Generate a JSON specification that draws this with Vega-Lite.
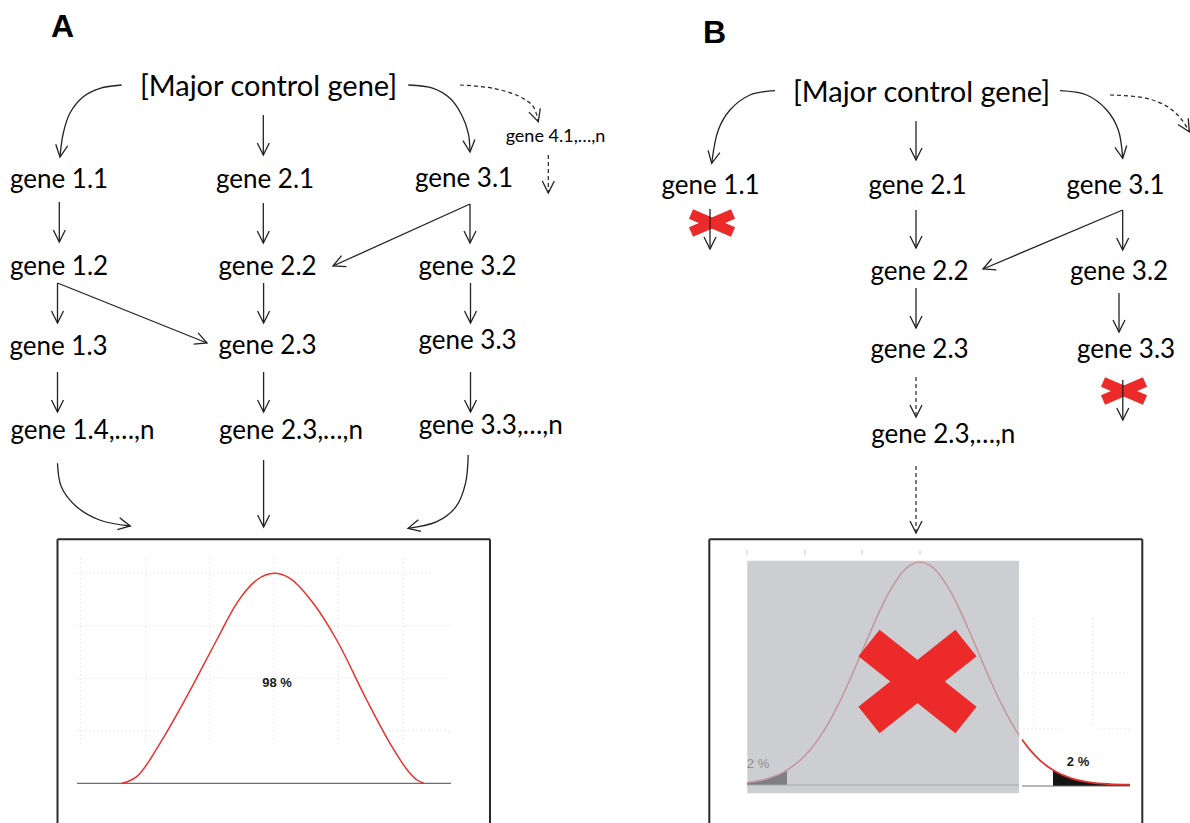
{
  "$schema": "https://vega.github.io/schema/vega-lite/v6.json",
  "width": 1190,
  "height": 823,
  "padding": 0,
  "autosize": {"type": "none"},
  "background": "white",
  "config": {"view": {"stroke": null}},
  "datasets": {
    "texts": [
      {"label": "A", "x": 62.5, "y": 37, "role": "letter"},
      {"label": "B", "x": 714.5, "y": 43, "role": "letter"},
      {"label": "[Major control gene]", "x": 268.5, "y": 96, "role": "major"},
      {"label": "[Major control gene]", "x": 921.5, "y": 102, "role": "major"},
      {"label": "gene 1.1", "x": 59, "y": 188, "role": "gene"},
      {"label": "gene 2.1", "x": 265, "y": 188, "role": "gene"},
      {"label": "gene 3.1", "x": 464, "y": 187, "role": "gene"},
      {"label": "gene 4.1,…,n", "x": 555.5, "y": 142, "role": "small"},
      {"label": "gene 1.2", "x": 59, "y": 275, "role": "gene"},
      {"label": "gene 2.2", "x": 267.5, "y": 275, "role": "gene"},
      {"label": "gene 3.2", "x": 467.5, "y": 275, "role": "gene"},
      {"label": "gene 1.3", "x": 58.5, "y": 355, "role": "gene"},
      {"label": "gene 2.3", "x": 267.5, "y": 354, "role": "gene"},
      {"label": "gene 3.3", "x": 467.5, "y": 349, "role": "gene"},
      {"label": "gene 1.4,…,n", "x": 82.5, "y": 439, "role": "gene"},
      {"label": "gene 2.3,…,n", "x": 291, "y": 439, "role": "gene"},
      {"label": "gene 3.3,…,n", "x": 490.7, "y": 434, "role": "gene"},
      {"label": "gene 1.1", "x": 710.5, "y": 194, "role": "gene"},
      {"label": "gene 2.1", "x": 917.5, "y": 194, "role": "gene"},
      {"label": "gene 3.1", "x": 1115.5, "y": 194, "role": "gene"},
      {"label": "gene 2.2", "x": 919.5, "y": 280, "role": "gene"},
      {"label": "gene 3.2", "x": 1119, "y": 280, "role": "gene"},
      {"label": "gene 2.3", "x": 919.5, "y": 358, "role": "gene"},
      {"label": "gene 3.3", "x": 1126, "y": 358, "role": "gene"},
      {"label": "gene 2.3,…,n", "x": 943.3, "y": 443, "role": "gene"},
      {"label": "98 %", "x": 277, "y": 687, "role": "pct"},
      {"label": "2 %", "x": 1078, "y": 766, "role": "pct"},
      {"label": "2 %", "x": 758, "y": 768, "role": "pctgray"}
    ],
    "segs": [
      {"x": 263.3, "y": 115, "x2": 263.3, "y2": 155, "kind": "solid"},
      {"x": 59.3, "y": 202, "x2": 59.3, "y2": 242, "kind": "solid"},
      {"x": 263.3, "y": 203, "x2": 263.3, "y2": 243, "kind": "solid"},
      {"x": 470, "y": 204, "x2": 470, "y2": 243, "kind": "solid"},
      {"x": 470, "y": 204, "x2": 333, "y2": 266, "kind": "solid"},
      {"x": 57.5, "y": 283, "x2": 57.5, "y2": 323, "kind": "solid"},
      {"x": 57.5, "y": 283, "x2": 207, "y2": 343, "kind": "solid"},
      {"x": 263.6, "y": 283, "x2": 263.6, "y2": 323, "kind": "solid"},
      {"x": 470.5, "y": 283, "x2": 470.5, "y2": 323, "kind": "solid"},
      {"x": 57.5, "y": 372, "x2": 57.5, "y2": 412, "kind": "solid"},
      {"x": 263.6, "y": 372, "x2": 263.6, "y2": 412, "kind": "solid"},
      {"x": 470.5, "y": 372, "x2": 470.5, "y2": 412, "kind": "solid"},
      {"x": 263.6, "y": 460, "x2": 263.6, "y2": 527, "kind": "solid"},
      {"x": 916, "y": 121, "x2": 916, "y2": 160, "kind": "solid"},
      {"x": 710, "y": 209, "x2": 710, "y2": 249, "kind": "solid"},
      {"x": 916, "y": 210, "x2": 916, "y2": 248, "kind": "solid"},
      {"x": 1122.7, "y": 210, "x2": 1122.7, "y2": 250, "kind": "solid"},
      {"x": 1122.7, "y": 210, "x2": 983, "y2": 269, "kind": "solid"},
      {"x": 916, "y": 288, "x2": 916, "y2": 328, "kind": "solid"},
      {"x": 1119, "y": 293, "x2": 1119, "y2": 332, "kind": "solid"},
      {"x": 1122.8, "y": 380, "x2": 1122.8, "y2": 420, "kind": "solid"},
      {"x": 548.3, "y": 155, "x2": 548.3, "y2": 193, "kind": "dashed"},
      {"x": 916, "y": 377, "x2": 916, "y2": 417, "kind": "dashed"},
      {"x": 916, "y": 466, "x2": 916, "y2": 533, "kind": "dashed"}
    ],
    "curves": [
      {"id": "a1", "i": 0, "x": 121.7, "y": 85, "kind": "solid"},
      {"id": "a1", "i": 1, "x": 100, "y": 88.3, "kind": "solid"},
      {"id": "a1", "i": 2, "x": 83.3, "y": 96.7, "kind": "solid"},
      {"id": "a1", "i": 3, "x": 70, "y": 113, "kind": "solid"},
      {"id": "a1", "i": 4, "x": 63.3, "y": 133, "kind": "solid"},
      {"id": "a1", "i": 5, "x": 60, "y": 156.7, "kind": "solid"},
      {"id": "a2", "i": 0, "x": 408.3, "y": 85, "kind": "solid"},
      {"id": "a2", "i": 1, "x": 433.3, "y": 88.3, "kind": "solid"},
      {"id": "a2", "i": 2, "x": 450, "y": 98.3, "kind": "solid"},
      {"id": "a2", "i": 3, "x": 461.7, "y": 115, "kind": "solid"},
      {"id": "a2", "i": 4, "x": 468.3, "y": 133.3, "kind": "solid"},
      {"id": "a2", "i": 5, "x": 470, "y": 151.7, "kind": "solid"},
      {"id": "a3", "i": 0, "x": 57.5, "y": 463.3, "kind": "solid"},
      {"id": "a3", "i": 1, "x": 61.3, "y": 486.7, "kind": "solid"},
      {"id": "a3", "i": 2, "x": 76.6, "y": 506.7, "kind": "solid"},
      {"id": "a3", "i": 3, "x": 99.6, "y": 520, "kind": "solid"},
      {"id": "a3", "i": 4, "x": 130.3, "y": 526, "kind": "solid"},
      {"id": "a4", "i": 0, "x": 468.2, "y": 455, "kind": "solid"},
      {"id": "a4", "i": 1, "x": 465.5, "y": 483.3, "kind": "solid"},
      {"id": "a4", "i": 2, "x": 456, "y": 506.7, "kind": "solid"},
      {"id": "a4", "i": 3, "x": 436.8, "y": 521.7, "kind": "solid"},
      {"id": "a4", "i": 4, "x": 408, "y": 528.3, "kind": "solid"},
      {"id": "b1", "i": 0, "x": 775, "y": 90.7, "kind": "solid"},
      {"id": "b1", "i": 1, "x": 750, "y": 95, "kind": "solid"},
      {"id": "b1", "i": 2, "x": 730, "y": 110, "kind": "solid"},
      {"id": "b1", "i": 3, "x": 718.3, "y": 130, "kind": "solid"},
      {"id": "b1", "i": 4, "x": 711.7, "y": 163.3, "kind": "solid"},
      {"id": "b2", "i": 0, "x": 1060, "y": 90.7, "kind": "solid"},
      {"id": "b2", "i": 1, "x": 1086.7, "y": 95, "kind": "solid"},
      {"id": "b2", "i": 2, "x": 1106.7, "y": 110, "kind": "solid"},
      {"id": "b2", "i": 3, "x": 1118.3, "y": 130, "kind": "solid"},
      {"id": "b2", "i": 4, "x": 1122.7, "y": 158.3, "kind": "solid"},
      {"id": "da", "i": 0, "x": 460, "y": 85, "kind": "dashed"},
      {"id": "da", "i": 1, "x": 493.3, "y": 88.3, "kind": "dashed"},
      {"id": "da", "i": 2, "x": 520, "y": 96.7, "kind": "dashed"},
      {"id": "da", "i": 3, "x": 533.3, "y": 106.7, "kind": "dashed"},
      {"id": "da", "i": 4, "x": 538.3, "y": 121.7, "kind": "dashed"},
      {"id": "db", "i": 0, "x": 1110, "y": 95, "kind": "dashed"},
      {"id": "db", "i": 1, "x": 1146.7, "y": 98.3, "kind": "dashed"},
      {"id": "db", "i": 2, "x": 1170, "y": 108.3, "kind": "dashed"},
      {"id": "db", "i": 3, "x": 1183.3, "y": 121.7, "kind": "dashed"},
      {"id": "db", "i": 4, "x": 1189.3, "y": 131.7, "kind": "dashed"}
    ],
    "heads": [
      {"x": 263.3, "y": 155, "angle": 0}, {"x": 59.3, "y": 242, "angle": 0},
      {"x": 263.3, "y": 243, "angle": 0}, {"x": 470, "y": 243, "angle": 0},
      {"x": 333, "y": 266, "angle": 66}, {"x": 57.5, "y": 323, "angle": 0},
      {"x": 207, "y": 343, "angle": 292}, {"x": 263.6, "y": 323, "angle": 0},
      {"x": 470.5, "y": 323, "angle": 0}, {"x": 57.5, "y": 412, "angle": 0},
      {"x": 263.6, "y": 412, "angle": 0}, {"x": 470.5, "y": 412, "angle": 0},
      {"x": 263.6, "y": 527, "angle": 0}, {"x": 916, "y": 160, "angle": 0},
      {"x": 710, "y": 249, "angle": 0}, {"x": 916, "y": 248, "angle": 0},
      {"x": 1122.7, "y": 250, "angle": 0}, {"x": 983, "y": 269, "angle": 67},
      {"x": 916, "y": 328, "angle": 0}, {"x": 1119, "y": 332, "angle": 0},
      {"x": 1122.8, "y": 420, "angle": 0}, {"x": 548.3, "y": 193, "angle": 0},
      {"x": 916, "y": 417, "angle": 0}, {"x": 916, "y": 533, "angle": 0},
      {"x": 60, "y": 157, "angle": 8}, {"x": 470, "y": 152, "angle": 355},
      {"x": 130.3, "y": 526, "angle": 281}, {"x": 408, "y": 528.3, "angle": 77},
      {"x": 711.7, "y": 163.3, "angle": 11}, {"x": 1122.7, "y": 158.3, "angle": 351},
      {"x": 538.3, "y": 121.7, "angle": 342}, {"x": 1189.3, "y": 131.7, "angle": 329}
    ],
    "xbars": [
      {"x": 691, "y": 214, "x2": 733, "y2": 232, "size": "small"},
      {"x": 691, "y": 232, "x2": 733, "y2": 214, "size": "small"},
      {"x": 1103, "y": 382, "x2": 1145, "y2": 400, "size": "small"},
      {"x": 1103, "y": 400, "x2": 1145, "y2": 382, "size": "small"},
      {"x": 869, "y": 643, "x2": 966, "y2": 720, "size": "big"},
      {"x": 966, "y": 643, "x2": 869, "y2": 720, "size": "big"}
    ],
    "frames": [
      {"x": 57.5, "y": 539.3, "x2": 490, "y2": 539.3},
      {"x": 57.5, "y": 539.3, "x2": 57.5, "y2": 823},
      {"x": 490, "y": 539.3, "x2": 490, "y2": 823},
      {"x": 709.3, "y": 539.3, "x2": 1142.3, "y2": 539.3},
      {"x": 709.3, "y": 539.3, "x2": 709.3, "y2": 823},
      {"x": 1142.3, "y": 539.3, "x2": 1142.3, "y2": 823}
    ],
    "grid": [
      {"x": 80.7, "y": 558, "x2": 80.7, "y2": 745},
      {"x": 145.7, "y": 558, "x2": 145.7, "y2": 745},
      {"x": 210, "y": 558, "x2": 210, "y2": 745},
      {"x": 274, "y": 558, "x2": 274, "y2": 745},
      {"x": 338.3, "y": 558, "x2": 338.3, "y2": 745},
      {"x": 403.3, "y": 558, "x2": 403.3, "y2": 745},
      {"x": 77, "y": 573.3, "x2": 432, "y2": 573.3},
      {"x": 77, "y": 625.7, "x2": 450, "y2": 625.7},
      {"x": 77, "y": 678.3, "x2": 450, "y2": 678.3},
      {"x": 77, "y": 730.7, "x2": 160, "y2": 730.7},
      {"x": 388, "y": 730.7, "x2": 450, "y2": 730.7},
      {"x": 1034, "y": 618, "x2": 1034, "y2": 727},
      {"x": 1092.7, "y": 618, "x2": 1092.7, "y2": 727},
      {"x": 1023, "y": 673, "x2": 1130, "y2": 673},
      {"x": 1023, "y": 729, "x2": 1060, "y2": 729},
      {"x": 1100, "y": 729, "x2": 1130, "y2": 729}
    ],
    "ticks": [
      {"x": 747, "y": 550, "x2": 747, "y2": 555},
      {"x": 805, "y": 550, "x2": 805, "y2": 555},
      {"x": 862, "y": 550, "x2": 862, "y2": 555},
      {"x": 920, "y": 550, "x2": 920, "y2": 555}
    ],
    "baselines": [
      {"x": 77, "y": 783.3, "x2": 451, "y2": 783.3, "panel": "A"},
      {"x": 747, "y": 785, "x2": 1019, "y2": 785, "panel": "Bgray"},
      {"x": 1022, "y": 786, "x2": 1130, "y2": 786, "panel": "B"}
    ],
    "grayrect": [{"x": 747.3, "y": 560.7, "x2": 1019, "y2": 793.3}],
    "distA": [
      {"x": 121.7, "y": 783.3}, {"x": 128, "y": 781.5}, {"x": 136.7, "y": 776.7},
      {"x": 160, "y": 743.3}, {"x": 186.7, "y": 696.7}, {"x": 216.7, "y": 640},
      {"x": 236.7, "y": 603.3}, {"x": 256.7, "y": 580}, {"x": 274, "y": 573.3},
      {"x": 290, "y": 578.3}, {"x": 313.3, "y": 603.3}, {"x": 336.7, "y": 640},
      {"x": 366.7, "y": 700}, {"x": 390, "y": 743.3}, {"x": 410, "y": 773.3},
      {"x": 417, "y": 780}, {"x": 424, "y": 783.3}
    ],
    "distB": [
      {"x": 747, "y": 782.7, "part": "faded"}, {"x": 767, "y": 778.8, "part": "faded"},
      {"x": 787, "y": 770.1, "part": "faded"}, {"x": 800, "y": 760.3, "part": "faded"},
      {"x": 810, "y": 749.9, "part": "faded"}, {"x": 820, "y": 736.6, "part": "faded"},
      {"x": 830, "y": 720.3, "part": "faded"}, {"x": 840, "y": 701.2, "part": "faded"},
      {"x": 850, "y": 679.5, "part": "faded"}, {"x": 860, "y": 656.3, "part": "faded"},
      {"x": 870, "y": 632.8, "part": "faded"}, {"x": 880, "y": 610.3, "part": "faded"},
      {"x": 890, "y": 590.7, "part": "faded"}, {"x": 900, "y": 575.2, "part": "faded"},
      {"x": 910, "y": 565.4, "part": "faded"}, {"x": 920, "y": 562, "part": "faded"},
      {"x": 930, "y": 565.4, "part": "faded"}, {"x": 940, "y": 575.2, "part": "faded"},
      {"x": 950, "y": 590.7, "part": "faded"}, {"x": 960, "y": 610.3, "part": "faded"},
      {"x": 970, "y": 632.8, "part": "faded"}, {"x": 980, "y": 656.3, "part": "faded"},
      {"x": 990, "y": 679.5, "part": "faded"}, {"x": 1000, "y": 701.2, "part": "faded"},
      {"x": 1010, "y": 720.3, "part": "faded"}, {"x": 1019, "y": 735.1, "part": "faded"},
      {"x": 1022, "y": 739.5, "part": "red"}, {"x": 1030, "y": 749.9, "part": "red"},
      {"x": 1040, "y": 760.3, "part": "red"}, {"x": 1053, "y": 770.1, "part": "red"},
      {"x": 1070, "y": 777.8, "part": "red"}, {"x": 1090, "y": 782.3, "part": "red"},
      {"x": 1110, "y": 784.1, "part": "red"}, {"x": 1130, "y": 784.7, "part": "red"}
    ],
    "tails": [
      {"x": 747, "y": 782.7, "base": 785, "side": "left"},
      {"x": 757, "y": 781.2, "base": 785, "side": "left"},
      {"x": 767, "y": 778.8, "base": 785, "side": "left"},
      {"x": 777, "y": 775.2, "base": 785, "side": "left"},
      {"x": 787, "y": 770.1, "base": 785, "side": "left"},
      {"x": 1053, "y": 770.1, "base": 786, "side": "right"},
      {"x": 1060, "y": 773.8, "base": 786, "side": "right"},
      {"x": 1070, "y": 777.8, "base": 786, "side": "right"},
      {"x": 1080, "y": 780.5, "base": 786, "side": "right"},
      {"x": 1090, "y": 782.3, "base": 786, "side": "right"},
      {"x": 1100, "y": 783.4, "base": 786, "side": "right"},
      {"x": 1110, "y": 784.1, "base": 786, "side": "right"},
      {"x": 1120, "y": 784.5, "base": 786, "side": "right"},
      {"x": 1130, "y": 784.7, "base": 786, "side": "right"}
    ]
  },
  "encoding": {
    "x": {"field": "x", "type": "quantitative", "scale": {"domain": [0, 1190], "nice": false, "zero": false}, "axis": null},
    "y": {"field": "y", "type": "quantitative", "scale": {"domain": [0, 823], "nice": false, "zero": false, "reverse": true}, "axis": null}
  },
  "layer": [
    {
      "data": {"name": "grid"},
      "mark": {"type": "rule", "stroke": "#ebebeb", "strokeWidth": 1, "strokeDash": [2, 2]},
      "encoding": {"x2": {"field": "x2"}, "y2": {"field": "y2"}}
    },
    {
      "data": {"name": "grayrect"},
      "mark": {"type": "rect", "fill": "#cdced2"},
      "encoding": {"x2": {"field": "x2"}, "y2": {"field": "y2"}}
    },
    {
      "data": {"name": "ticks"},
      "mark": {"type": "rule", "stroke": "#c8c8c8", "strokeWidth": 1},
      "encoding": {"x2": {"field": "x2"}, "y2": {"field": "y2"}}
    },
    {
      "data": {"name": "tails"},
      "transform": [{"filter": "datum.side === 'left'"}],
      "mark": {"type": "area", "fill": "#7e7f83", "interpolate": "monotone"},
      "encoding": {"y2": {"field": "base"}}
    },
    {
      "data": {"name": "tails"},
      "transform": [{"filter": "datum.side === 'right'"}],
      "mark": {"type": "area", "fill": "#151515", "interpolate": "monotone"},
      "encoding": {"y2": {"field": "base"}}
    },
    {
      "data": {"name": "baselines"},
      "transform": [{"filter": "datum.panel !== 'Bgray'"}],
      "mark": {"type": "rule", "stroke": "#6e6e6e", "strokeWidth": 1.2},
      "encoding": {"x2": {"field": "x2"}, "y2": {"field": "y2"}}
    },
    {
      "data": {"name": "baselines"},
      "transform": [{"filter": "datum.panel === 'Bgray'"}],
      "mark": {"type": "rule", "stroke": "#a3a3a6", "strokeWidth": 1.2},
      "encoding": {"x2": {"field": "x2"}, "y2": {"field": "y2"}}
    },
    {
      "data": {"name": "distA"},
      "mark": {"type": "line", "stroke": "#e8322f", "strokeWidth": 1.5, "interpolate": "monotone"},
      "encoding": {}
    },
    {
      "data": {"name": "distB"},
      "transform": [{"filter": "datum.part === 'faded'"}],
      "mark": {"type": "line", "stroke": "#c39a9c", "strokeWidth": 1.6, "interpolate": "monotone"},
      "encoding": {}
    },
    {
      "data": {"name": "distB"},
      "transform": [{"filter": "datum.part === 'red'"}],
      "mark": {"type": "line", "stroke": "#e0342f", "strokeWidth": 1.8, "interpolate": "monotone"},
      "encoding": {}
    },
    {
      "data": {"name": "xbars"},
      "transform": [{"filter": "datum.size === 'big'"}],
      "mark": {"type": "rule", "stroke": "#ec2a2a", "strokeWidth": 34, "strokeCap": "butt"},
      "encoding": {"x2": {"field": "x2"}, "y2": {"field": "y2"}}
    },
    {
      "data": {"name": "xbars"},
      "transform": [{"filter": "datum.size === 'small'"}],
      "mark": {"type": "rule", "stroke": "#ec2a2a", "strokeWidth": 10.5, "strokeCap": "butt"},
      "encoding": {"x2": {"field": "x2"}, "y2": {"field": "y2"}}
    },
    {
      "data": {"name": "frames"},
      "mark": {"type": "rule", "stroke": "#2a2a2a", "strokeWidth": 2},
      "encoding": {"x2": {"field": "x2"}, "y2": {"field": "y2"}}
    },
    {
      "data": {"name": "segs"},
      "transform": [{"filter": "datum.kind === 'solid'"}],
      "mark": {"type": "rule", "stroke": "#222222", "strokeWidth": 1.3},
      "encoding": {"x2": {"field": "x2"}, "y2": {"field": "y2"}}
    },
    {
      "data": {"name": "segs"},
      "transform": [{"filter": "datum.kind === 'dashed'"}],
      "mark": {"type": "rule", "stroke": "#222222", "strokeWidth": 1.2, "strokeDash": [4, 3]},
      "encoding": {"x2": {"field": "x2"}, "y2": {"field": "y2"}}
    },
    {
      "data": {"name": "curves"},
      "transform": [{"filter": "datum.kind === 'solid'"}],
      "mark": {"type": "line", "stroke": "#222222", "strokeWidth": 1.3, "interpolate": "catmull-rom"},
      "encoding": {"detail": {"field": "id"}, "order": {"field": "i", "type": "quantitative"}}
    },
    {
      "data": {"name": "curves"},
      "transform": [{"filter": "datum.kind === 'dashed'"}],
      "mark": {"type": "line", "stroke": "#222222", "strokeWidth": 1.2, "strokeDash": [4, 3], "interpolate": "catmull-rom"},
      "encoding": {"detail": {"field": "id"}, "order": {"field": "i", "type": "quantitative"}}
    },
    {
      "data": {"name": "heads"},
      "mark": {"type": "point", "shape": "M-0.5,-1L0,0L0.5,-1", "filled": false, "stroke": "#222222", "strokeWidth": 1.3, "size": 576, "opacity": 1},
      "encoding": {"angle": {"field": "angle", "type": "quantitative", "scale": null}}
    },
    {
      "data": {"name": "texts"},
      "transform": [{"filter": "datum.role === 'letter'"}],
      "mark": {"type": "text", "font": "Liberation Sans", "fontWeight": "bold", "fontSize": 32, "align": "center", "baseline": "alphabetic", "fill": "#000000"},
      "encoding": {"text": {"field": "label"}}
    },
    {
      "data": {"name": "texts"},
      "transform": [{"filter": "datum.role === 'major'"}],
      "mark": {"type": "text", "font": "Lato", "fontSize": 29, "align": "center", "baseline": "alphabetic", "fill": "#000000"},
      "encoding": {"text": {"field": "label"}}
    },
    {
      "data": {"name": "texts"},
      "transform": [{"filter": "datum.role === 'gene'"}],
      "mark": {"type": "text", "font": "Lato", "fontSize": 26, "align": "center", "baseline": "alphabetic", "fill": "#000000"},
      "encoding": {"text": {"field": "label"}}
    },
    {
      "data": {"name": "texts"},
      "transform": [{"filter": "datum.role === 'small'"}],
      "mark": {"type": "text", "font": "Lato", "fontSize": 18, "align": "center", "baseline": "alphabetic", "fill": "#000000"},
      "encoding": {"text": {"field": "label"}}
    },
    {
      "data": {"name": "texts"},
      "transform": [{"filter": "datum.role === 'pct'"}],
      "mark": {"type": "text", "font": "Liberation Sans", "fontWeight": "bold", "fontSize": 13, "align": "center", "baseline": "alphabetic", "fill": "#1a1a1a"},
      "encoding": {"text": {"field": "label"}}
    },
    {
      "data": {"name": "texts"},
      "transform": [{"filter": "datum.role === 'pctgray'"}],
      "mark": {"type": "text", "font": "Liberation Sans", "fontSize": 13, "align": "center", "baseline": "alphabetic", "fill": "#8d8d90"},
      "encoding": {"text": {"field": "label"}}
    }
  ]
}
